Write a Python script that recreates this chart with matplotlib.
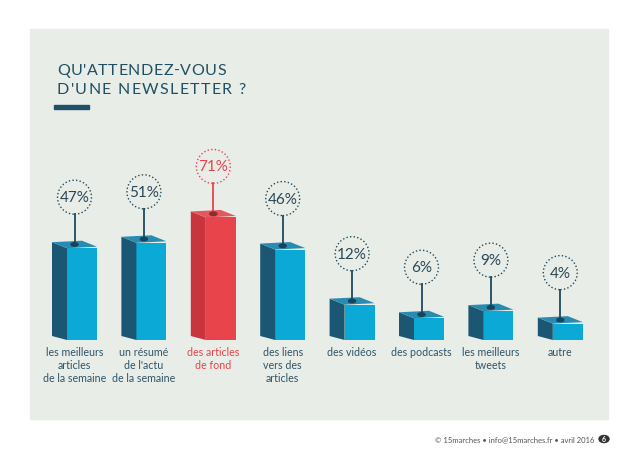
import numpy as np
import matplotlib
matplotlib.use("Agg")
import matplotlib.pyplot as plt
from matplotlib.patches import Rectangle, Polygon, Ellipse, Circle

# data
categories = [
    "les meilleurs\narticles\nde la semaine",
    "un résumé\nde l'actu\nde la semaine",
    "des articles\nde fond",
    "des liens\nvers des\narticles",
    "des vidéos",
    "des podcasts",
    "les meilleurs\ntweets",
    "autre",
]
values = [47, 51, 71, 46, 12, 6, 9, 4]
highlight = 2

title_lines = ["QU'ATTENDEZ-VOUS", "D'UNE NEWSLETTER ?"]
footer = "© 15marches • info@15marches.fr • avril 2016"
page = "6"

# colours
bg_panel = "#E9EDE8"
blue_front, blue_side, blue_top = "#0BAAD6", "#1B5672", "#2A8BB2"
red_front, red_side, red_top = "#E8444B", "#C9353D", "#E4575D"
dark = "#1F4A5E"
text_col = "#2E5468"

plt.rcParams['font.family'] = ['Lato', 'DejaVu Sans']

# layout, in pixels
W, H = 638, 452
x0 = 75.0      # centre of first bar
step = 69.4    # distance between bars
base = H - 341.0   # baseline, from bottom
gain = 6.2     # pixels per unit of the (power) scale
p = 0.7        # the original bars are not linear in the values


def fwd(v):
    return np.sign(v) * np.abs(v) ** p


def inv(u):
    return np.sign(u) * np.abs(u) ** (1 / p)


fig = plt.figure(figsize=(W / 100, H / 100), dpi=100)
fig.patches.append(Rectangle((30 / W, (H - 420) / H), 578 / W, 390 / H,
                             transform=fig.transFigure, color=bg_panel, zorder=-1))

ax = fig.add_axes([0, 0, 1, 1])
ax.set_yscale("function", functions=(fwd, inv))
ax.set_xlim(-x0 / step, (W - x0) / step)
ax.set_ylim(inv(-base / gain), inv((H - base) / gain))
ax.set_facecolor("none")
ax.axis("off")

# overlay in pixels (bottom-up) for the 3d faces and callouts
px = fig.add_axes([0, 0, 1, 1])
px.set_xlim(0, W)
px.set_ylim(0, H)
px.set_facecolor("none")
px.axis("off")

x = np.arange(len(values))
front = [red_front if i == highlight else blue_front for i in x]
ax.bar(x + 7 / step, values, width=30 / step, color=front, zorder=3)

dx, dy = 15, 6
r = 17
for i, v in zip(x, values):
    hl = i == highlight
    side_c = red_side if hl else blue_side
    top_c = red_top if hl else blue_top
    line_c = red_front if hl else dark
    c, top_y = ax.transData.transform((i, v))
    _, b = ax.transData.transform((i, 0))
    fl, fr = c - 8, c + 22
    side = [(fl, b), (fl, top_y), (fl - dx, top_y + dy), (fl - dx, b + dy - 2)]
    top = [(fl, top_y), (fr, top_y + 1.5), (fr - dx, top_y + dy + 1.5), (fl - dx, top_y + dy)]
    px.add_patch(Polygon(side, closed=True, color=side_c, zorder=3, lw=0))
    px.add_patch(Polygon(top, closed=True, color=top_c, zorder=3, lw=0))

    mid = top_y + dy / 2 + 0.7
    cx = c - 0.5
    cy = top_y + 51
    px.add_patch(Circle((cx, cy), r, fill=False, ec=line_c, lw=1.0,
                        ls=(0, (1, 1.6)), zorder=4))
    px.plot([cx, cx], [mid, cy - r], color=line_c, lw=1.3, zorder=4)
    px.add_patch(Ellipse((cx, mid), 7, 3.5,
                         color="#8E2A30" if hl else "#174457", zorder=5))
    px.text(cx, cy, f"{v}%", ha="center", va="center", fontsize=11,
            color=red_front if hl else "#2A4757", zorder=5)
    px.text(cx, b - 6, categories[i], ha="center", va="top", fontsize=7.7,
            linespacing=1.2, color=red_front if hl else text_col)


# title with letter spacing
def spaced_line(s, x_px, y_px, target_w, **kw):
    renderer = fig.canvas.get_renderer()
    widths = []
    for ch in s:
        if ch == " ":
            widths.append(4.5)
            continue
        t = fig.text(0, 0, ch, **kw)
        widths.append(t.get_window_extent(renderer).width)
        t.remove()
    track = (target_w - sum(widths)) / (len(s) - 1)
    pos = x_px
    for ch, w in zip(s, widths):
        if ch != " ":
            fig.text(pos / W, (H - y_px) / H, ch, va="center", ha="left", **kw)
        pos += w + track


tkw = dict(fontsize=11.5, color="#1F4F63", fontweight="normal")
spaced_line(title_lines[0], 57, 71, 169, **tkw)
spaced_line(title_lines[1], 57, 90, 189, **tkw)
fig.patches.append(Rectangle((54 / W, (H - 110) / H), 35 / W, 4 / H,
                             transform=fig.transFigure, color="#1F5068", zorder=2))

# footer
fig.text(594 / W, (H - 440) / H, footer, ha="right", va="center",
         fontsize=5.5, color="#555555")
fig.patches.append(Circle((604 / W, (H - 440) / H), 5 / W, transform=fig.transFigure,
                          color="#333333", zorder=2))
fig.text(604 / W, (H - 440) / H, page, ha="center", va="center", fontsize=5,
         color="white", fontweight="bold")

fig.savefig("out.png", dpi=100)
